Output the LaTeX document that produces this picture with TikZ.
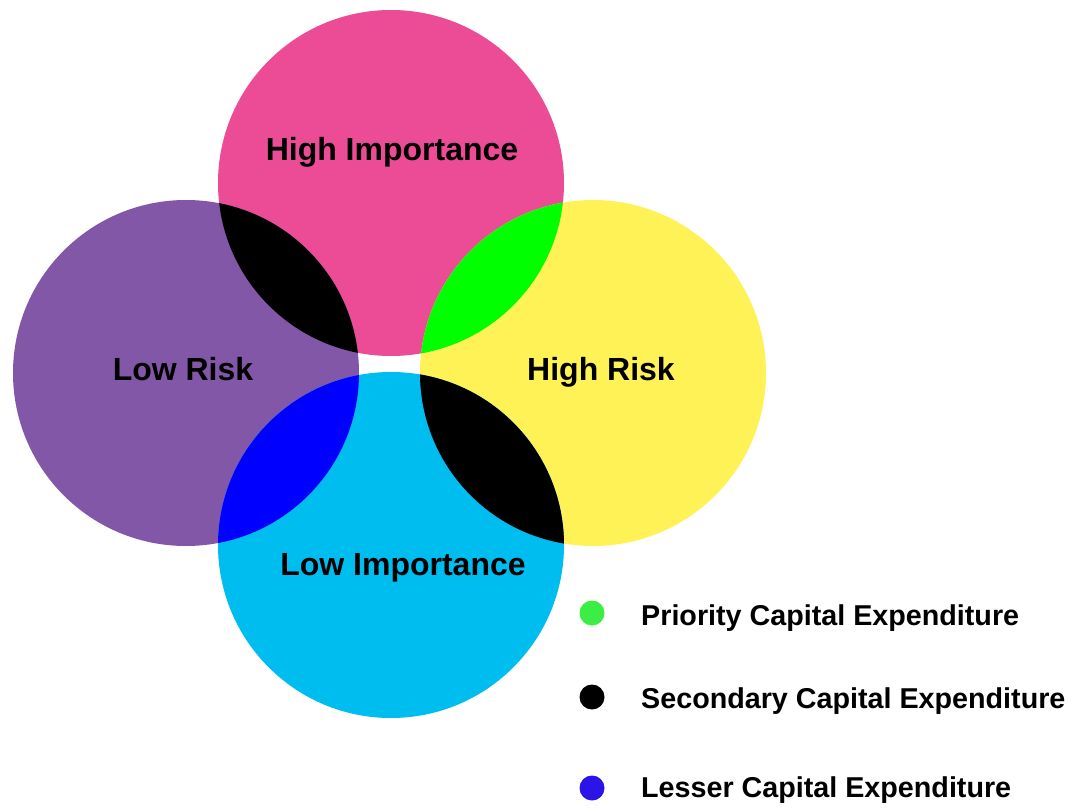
\documentclass[tikz,border=0pt]{standalone}
\usepackage{fontspec}
\setmainfont{Liberation Sans}
\definecolor{cpink}{HTML}{EC4C96}
\definecolor{cpurple}{HTML}{8357A8}
\definecolor{cyellow}{HTML}{FFF257}
\definecolor{ccyan}{HTML}{00BDF0}
\definecolor{cgreen}{HTML}{00FF00}
\definecolor{cblue}{HTML}{0000FF}
\definecolor{lgreen}{HTML}{3CEE44}
\definecolor{lblue}{HTML}{2A14E8}
\begin{document}
\begin{tikzpicture}[x=1pt,y=-1pt,
  lab/.style={anchor=base,font=\bfseries\fontsize{32}{38}\selectfont,text=black,inner sep=0pt},
  leg/.style={anchor=base west,font=\bfseries\fontsize{28.7}{34}\selectfont,text=black,inner sep=0pt},
  dot/.style={circle,minimum size=25pt,inner sep=0pt}]
\useasboundingbox (0,0) rectangle (1077,808);
\fill[white] (0,0) rectangle (1077,808);
\def\R{173}
\coordinate (T) at (391,183);
\coordinate (L) at (186,373);
\coordinate (Rt) at (593,373);
\coordinate (B) at (391,545);
\fill[cpink] (T) circle (\R);
\fill[cpurple] (L) circle (\R);
\fill[cyellow] (Rt) circle (\R);
\fill[ccyan] (B) circle (\R);
\begin{scope}\clip (T) circle (\R); \fill[black] (L) circle (\R); \end{scope}
\begin{scope}\clip (T) circle (\R); \fill[cgreen] (Rt) circle (\R); \end{scope}
\begin{scope}\clip (B) circle (\R); \fill[cblue] (L) circle (\R); \end{scope}
\begin{scope}\clip (B) circle (\R); \fill[black] (Rt) circle (\R); \end{scope}
\node[lab] (hi) at (392,160) {High Importance};
\node[lab] (lr) at (183,380) {Low Risk};
\node[lab] (hr) at (601,380) {High Risk};
\node[lab] (li) at (403,575) {Low Importance};
\node[dot,fill=lgreen] (d1) at (592,613) {};
\node[dot,fill=black] (d2) at (592,697) {};
\node[dot,fill=lblue] (d3) at (592,788) {};
\node[leg] (t1) at (641,625) {Priority Capital Expenditure};
\node[leg] (t2) at (641,708) {Secondary Capital Expenditure};
\node[leg] (t3) at (641,797) {Lesser Capital Expenditure};
\end{tikzpicture}
\end{document}
